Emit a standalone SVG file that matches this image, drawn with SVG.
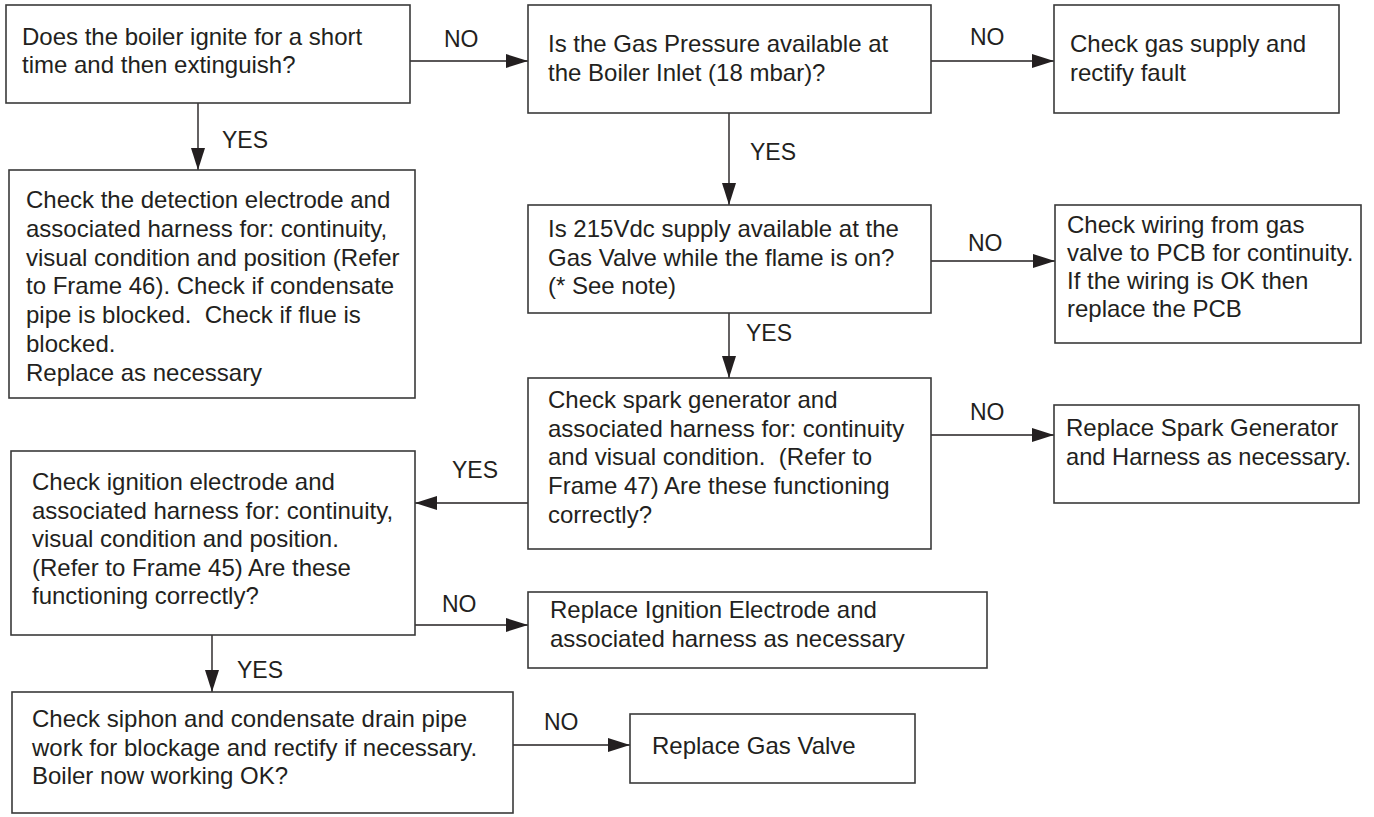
<svg xmlns="http://www.w3.org/2000/svg" width="1374" height="817" viewBox="0 0 1374 817">
<style>
.box{fill:#fff;stroke:#3a3a3a;stroke-width:1.6}
.t{font-family:"Liberation Sans",Arial,sans-serif;font-size:24px;fill:#231f20}
.lbl{font-family:"Liberation Sans",Arial,sans-serif;font-size:23px;fill:#231f20}
.ln{fill:none;stroke:#231f20;stroke-width:1.4;marker-end:url(#ah)}
</style>
<defs>
<marker id="ah" markerUnits="userSpaceOnUse" markerWidth="22" markerHeight="14" refX="22" refY="7" orient="auto">
<path d="M0,0 L22,7 L0,14 z" fill="#231f20"/>
</marker>
</defs>
<rect width="1374" height="817" fill="#fff"/>
<g id="connectors">
<line class="ln" x1="410" y1="61" x2="528" y2="61"/>
<text class="lbl" x="444" y="47">NO</text>
<line class="ln" x1="931" y1="61" x2="1054" y2="61"/>
<text class="lbl" x="970" y="45">NO</text>
<line class="ln" x1="198" y1="103" x2="198" y2="170"/>
<text class="lbl" x="222" y="148">YES</text>
<line class="ln" x1="729" y1="113" x2="729" y2="205"/>
<text class="lbl" x="750" y="160">YES</text>
<line class="ln" x1="931" y1="261" x2="1055" y2="261"/>
<text class="lbl" x="968" y="251">NO</text>
<line class="ln" x1="729" y1="313" x2="729" y2="378"/>
<text class="lbl" x="746" y="341">YES</text>
<line class="ln" x1="931" y1="435" x2="1054" y2="435"/>
<text class="lbl" x="970" y="420">NO</text>
<line class="ln" x1="528" y1="503" x2="415" y2="503"/>
<text class="lbl" x="452" y="478">YES</text>
<line class="ln" x1="415" y1="625" x2="528" y2="625"/>
<text class="lbl" x="442" y="612">NO</text>
<line class="ln" x1="212" y1="635" x2="212" y2="692"/>
<text class="lbl" x="237" y="678">YES</text>
<line class="ln" x1="513" y1="745" x2="630" y2="745"/>
<text class="lbl" x="544" y="730">NO</text>
</g>
<g id="n1">
<rect class="box" x="6" y="5" width="404" height="98"/>
<text class="t" x="22" y="45">Does the boiler ignite for a short</text>
<text class="t" x="22" y="73">time and then extinguish?</text>
</g>
<g id="n2">
<rect class="box" x="528" y="5" width="403" height="108"/>
<text class="t" x="548" y="52">Is the Gas Pressure available at</text>
<text class="t" x="548" y="81">the Boiler Inlet (18 mbar)?</text>
</g>
<g id="n3">
<rect class="box" x="1054" y="5" width="285" height="108"/>
<text class="t" x="1070" y="52">Check gas supply and</text>
<text class="t" x="1070" y="81">rectify fault</text>
</g>
<g id="n4">
<rect class="box" x="9" y="170" width="406" height="228"/>
<text class="t" x="26" y="208">Check the detection electrode and</text>
<text class="t" x="26" y="236.8">associated harness for: continuity,</text>
<text class="t" x="26" y="265.6">visual condition and position (Refer</text>
<text class="t" x="26" y="294.4">to Frame 46). Check if condensate</text>
<text class="t" x="26" y="323.2" xml:space="preserve">pipe is blocked.  Check if flue is</text>
<text class="t" x="26" y="352">blocked.</text>
<text class="t" x="26" y="380.8">Replace as necessary</text>
</g>
<g id="n5">
<rect class="box" x="528" y="205" width="403" height="108"/>
<text class="t" x="548" y="237">Is 215Vdc supply available at the</text>
<text class="t" x="548" y="265.5">Gas Valve while the flame is on?</text>
<text class="t" x="548" y="294">(* See note)</text>
</g>
<g id="n6">
<rect class="box" x="1055" y="205" width="306" height="138"/>
<text class="t" x="1067" y="233">Check wiring from gas</text>
<text class="t" x="1067" y="261">valve to PCB for continuity.</text>
<text class="t" x="1067" y="289">If the wiring is OK then</text>
<text class="t" x="1067" y="317">replace the PCB</text>
</g>
<g id="n7">
<rect class="box" x="528" y="378" width="403" height="171"/>
<text class="t" x="548" y="408">Check spark generator and</text>
<text class="t" x="548" y="436.7">associated harness for: continuity</text>
<text class="t" x="548" y="465.4" xml:space="preserve">and visual condition.  (Refer to</text>
<text class="t" x="548" y="494.1">Frame 47) Are these functioning</text>
<text class="t" x="548" y="522.8">correctly?</text>
</g>
<g id="n8">
<rect class="box" x="1054" y="405" width="305" height="98"/>
<text class="t" x="1066" y="436">Replace Spark Generator</text>
<text class="t" x="1066" y="465" textLength="285" lengthAdjust="spacingAndGlyphs">and Harness as necessary.</text>
</g>
<g id="n9">
<rect class="box" x="11" y="451" width="404" height="184"/>
<text class="t" x="32" y="490">Check ignition electrode and</text>
<text class="t" x="32" y="518.5">associated harness for: continuity,</text>
<text class="t" x="32" y="547">visual condition and position.</text>
<text class="t" x="32" y="575.5">(Refer to Frame 45) Are these</text>
<text class="t" x="32" y="604">functioning correctly?</text>
</g>
<g id="n10">
<rect class="box" x="528" y="592" width="459" height="76"/>
<text class="t" x="550" y="618">Replace Ignition Electrode and</text>
<text class="t" x="550" y="647">associated harness as necessary</text>
</g>
<g id="n11">
<rect class="box" x="12" y="692" width="501" height="121"/>
<text class="t" x="32" y="727">Check siphon and condensate drain pipe</text>
<text class="t" x="32" y="755.5">work for blockage and rectify if necessary.</text>
<text class="t" x="32" y="784">Boiler now working OK?</text>
</g>
<g id="n12">
<rect class="box" x="630" y="714" width="285" height="69"/>
<text class="t" x="652" y="754">Replace Gas Valve</text>
</g>
</svg>
